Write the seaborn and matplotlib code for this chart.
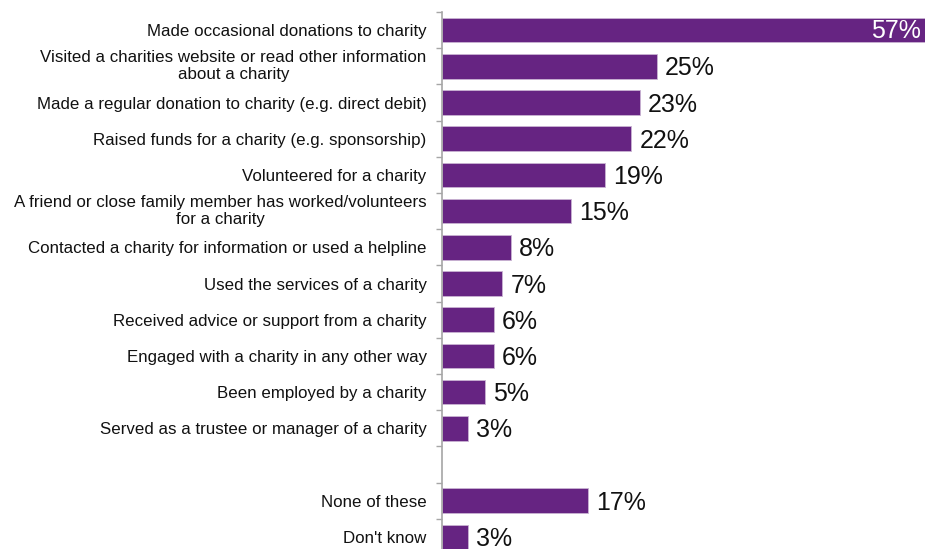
import matplotlib
matplotlib.use("Agg")
import matplotlib.pyplot as plt
import seaborn as sns
import pandas as pd
import numpy as np

categories = [
    "Made occasional donations to charity",
    "Visited a charities website or read other information\nabout a charity",
    "Made a regular donation to charity (e.g. direct debit)",
    "Raised funds for a charity (e.g. sponsorship)",
    "Volunteered for a charity",
    "A friend or close family member has worked/volunteers\nfor a charity",
    "Contacted a charity for information or used a helpline",
    "Used the services of a charity",
    "Received advice or support from a charity",
    "Engaged with a charity in any other way",
    "Been employed by a charity",
    "Served as a trustee or manager of a charity",
    "",
    "None of these",
    "Don't know",
]
values = [57, 25, 23, 22, 19, 15, 8, 7, 6, 6, 5, 3, np.nan, 17, 3]

df = pd.DataFrame({"category": [c if c else " " for c in categories], "value": values})

sns.set_theme(style="white")
plt.rcParams["font.family"] = ["Liberation Sans", "DejaVu Sans"]

W, H = 925, 549
fig = plt.figure(figsize=(W / 100, H / 100), dpi=100)
x0, x1 = 442, 925
y_top, y_bot = 12, 555
ax = fig.add_axes([x0 / W, (H - y_bot) / H, (x1 - x0) / W, (y_bot - y_top) / H])

bar_color = "#662482"
sns.barplot(data=df, y="category", x="value", orient="h", color=bar_color,
            width=0.68, ax=ax, saturation=1, edgecolor="#c9b3d3", linewidth=0.6)

px_per_unit = 8.59
ax.set_xlim(0, (x1 - x0) / px_per_unit)
ax.set_ylim(len(categories) - 0.5, -0.5)

ax.set_xlabel("")
ax.set_ylabel("")
ax.set_xticks([])
ax.set_yticks(range(len(categories)))
ax.set_yticklabels(categories, fontsize=12.2, color="#111111",
                   multialignment="center", linespacing=1.15)
ax.tick_params(axis="y", length=0, pad=11)
ax.set_yticks(np.arange(-0.5, len(categories), 1.0), minor=True)
ax.tick_params(axis="y", which="minor", length=4, width=1, color="#a6a6a6", left=True)

# two-line labels sit a touch above the bar centre
for lbl in ax.get_yticklabels():
    if "\n" in lbl.get_text():
        lbl.set_y(lbl.get_position()[1])
        lbl.set_transform(lbl.get_transform() +
                          matplotlib.transforms.ScaledTranslation(0, 2 / 72, fig.dpi_scale_trans))

for s in ["top", "right", "bottom"]:
    ax.spines[s].set_visible(False)
ax.spines["left"].set_color("#a6a6a6")
ax.spines["left"].set_linewidth(1.2)

for i, v in enumerate(values):
    if np.isnan(v):
        continue
    if v > 50:
        ax.annotate(f"{v:.0f}%", xy=(ax.get_xlim()[1], i), xytext=(-3, -1),
                    textcoords="offset points", ha="right", va="center",
                    fontsize=18, color="white")
    else:
        ax.annotate(f"{v:.0f}%", xy=(v, i), xytext=(6, -1.5),
                    textcoords="offset points", ha="left", va="center",
                    fontsize=18, color="#111111")

fig.savefig("out.png", dpi=100)
